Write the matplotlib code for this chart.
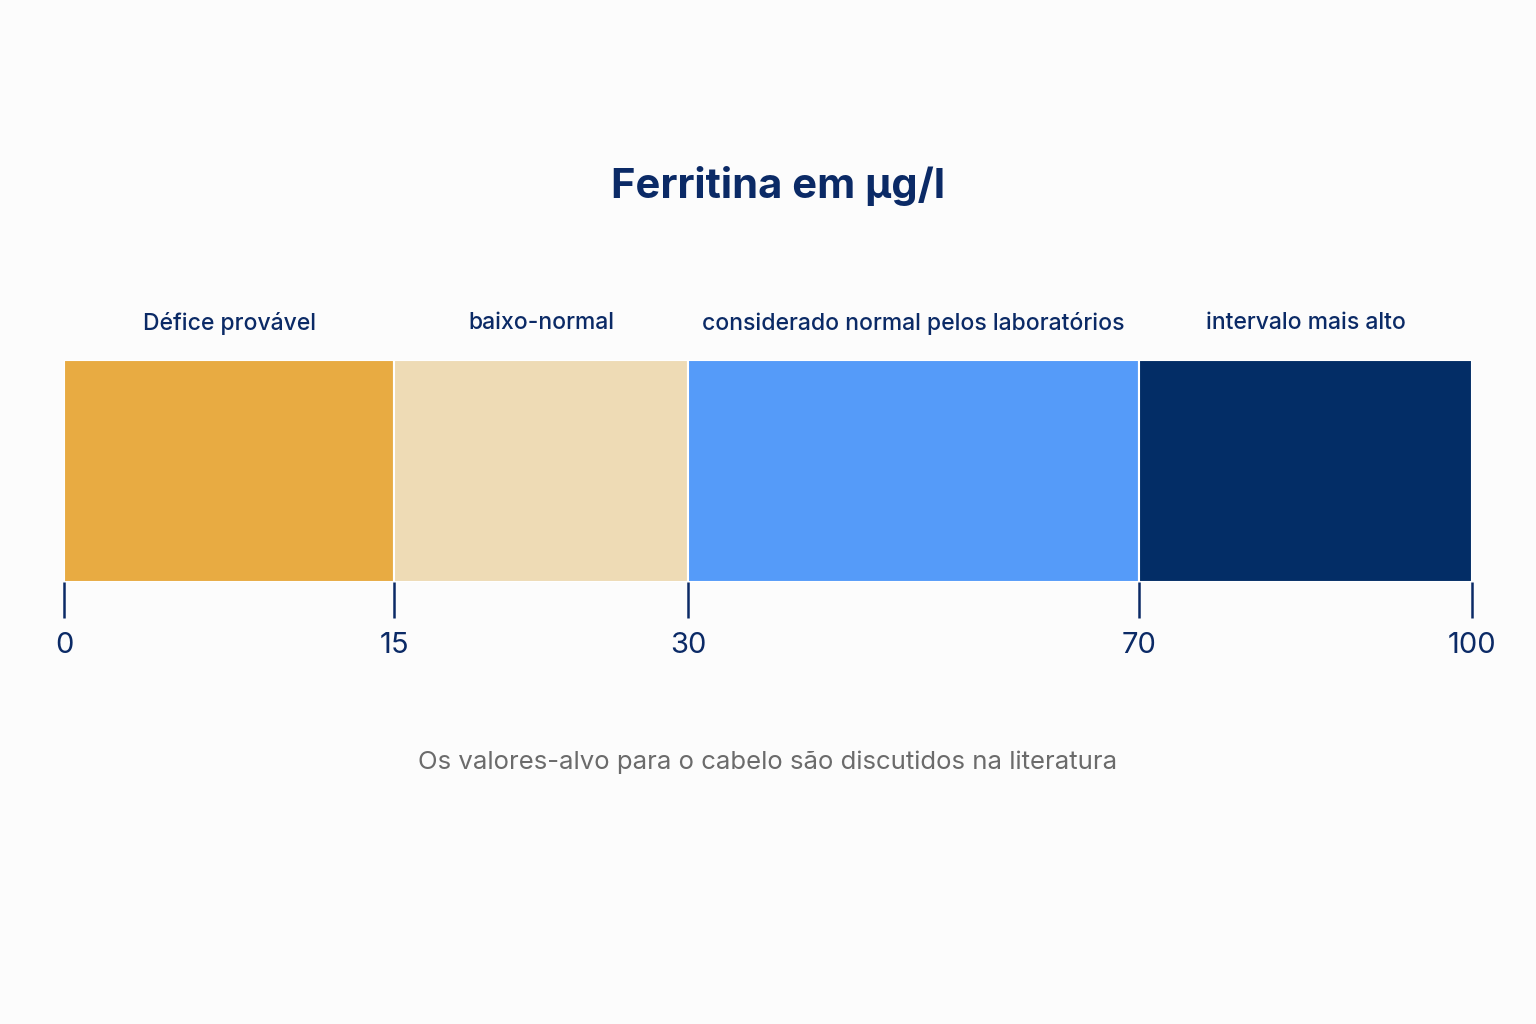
import numpy as np
import matplotlib
matplotlib.use("Agg")
import matplotlib.pyplot as plt

# Data
bounds = [0, 15, 30, 70, 100]
labels = ['Défice provável', 'baixo-normal',
          'considerado normal pelos laboratórios', 'intervalo mais alto']
colors = ['#E8AB42', '#EEDBB5', '#559BF9', '#032D66']

# segments are not drawn to scale: screen share of each boundary
screen_pos = [0, 0.2344, 0.4432, 0.7635, 1.0]

plt.rcParams['font.family'] = ['Inter', 'DejaVu Sans']
navy = '#0B2A66'

fig = plt.figure(figsize=(15.36, 10.24), dpi=100, facecolor='#FCFCFC')
ax = fig.add_axes([64 / 1536, 1 - 582 / 1024, 1408 / 1536, 222 / 1024])
ax.set_facecolor('none')

fwd = lambda v: np.interp(v, bounds, screen_pos)
inv = lambda v: np.interp(v, screen_pos, bounds)
ax.set_xscale('function', functions=(fwd, inv))
ax.set_xlim(bounds[0], bounds[-1])
ax.set_ylim(0, 1)

for i in range(len(labels)):
    ax.barh(0.5, bounds[i + 1] - bounds[i], left=bounds[i], height=1,
            color=colors[i], edgecolor='white', linewidth=1.5)
    mid = inv((fwd(bounds[i]) + fwd(bounds[i + 1])) / 2)
    ax.text(mid, 1.165, labels[i], ha='center', va='center',
            fontsize=16.5, fontweight='medium', color=navy)

ax.set_xticks(bounds)
ax.set_xticklabels([str(b) for b in bounds])
ax.tick_params(axis='x', length=26, width=1.8, color=navy, labelcolor=navy,
               labelsize=21, pad=10, direction='out')
ax.set_yticks([])
for s in ax.spines.values():
    s.set_visible(False)

fig.text(778 / 1536, 1 - 186 / 1024, 'Ferritina em µg/l', ha='center', va='center',
         fontsize=30, fontweight='bold', color=navy)
fig.text(0.5, 1 - 762 / 1024, 'Os valores-alvo para o cabelo são discutidos na literatura',
         ha='center', va='center', fontsize=18.5, color='#6B6B6B')

fig.savefig('out.png', dpi=100, facecolor=fig.get_facecolor())
